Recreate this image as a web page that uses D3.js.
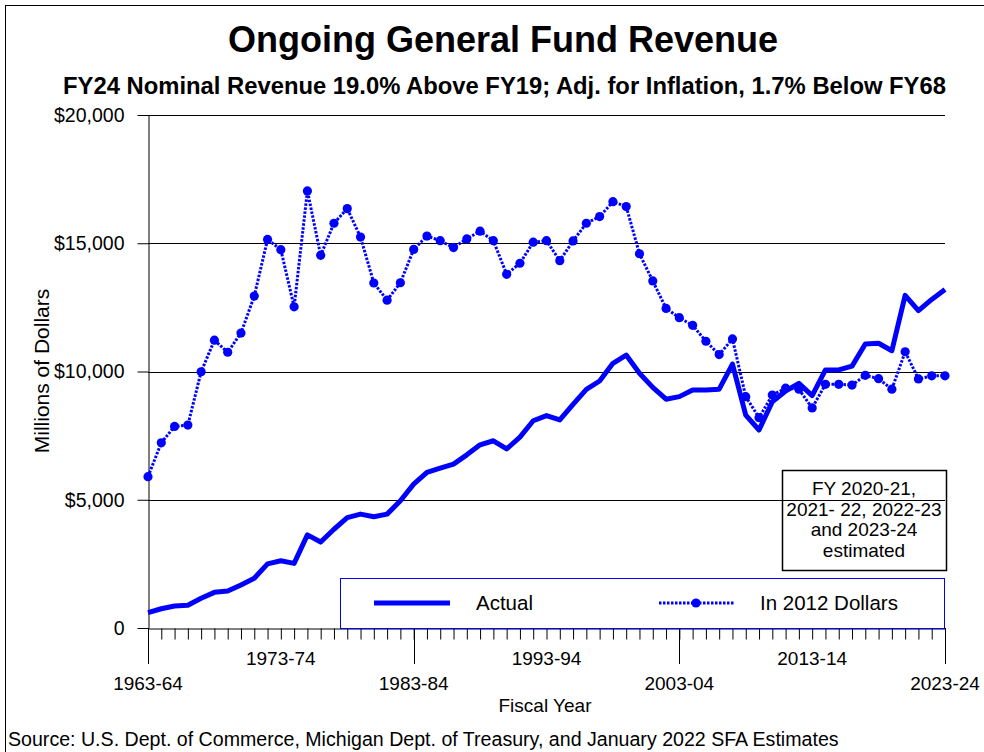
<!DOCTYPE html>
<html>
<head>
<meta charset="utf-8">
<script src="https://cdn.jsdelivr.net/npm/d3@7"></script>
<style>
  body { margin: 0; background: #fff; }
  svg { font-family: "Liberation Sans", Arial, sans-serif; }
</style>
</head>
<body>
<svg id="chart"></svg>
<script>
// fiscal years 1963-64 .. 2023-24
var years = d3.range(1963, 2024).map(function(y) {
  return y + "-" + String((y + 1) % 100).padStart(2, "0");
});

// ongoing GF revenue, millions (nominal)
var actual = [600, 750, 860, 885, 1160, 1390, 1440, 1680, 1940, 2500,
  2620, 2520, 3630, 3350, 3850, 4300, 4440, 4340, 4440, 4960,
  5610, 6070, 6230, 6390, 6750, 7140, 7300, 6980, 7440, 8080,
  8280, 8110, 8720, 9300, 9630, 10320, 10640, 9930, 9380, 8920,
  9020, 9280, 9280, 9310, 10290, 8300, 7720, 8820, 9240, 9540,
  9060, 10060, 10060, 10210, 11070, 11100, 10810, 12970, 12370, 12810,
  13200];

// same in 2012 dollars
var real2012 = [5900, 7220, 7860, 7910, 9990, 11220, 10750, 11500, 12940, 15150,
  14750, 12520, 17040, 14530, 15780, 16350, 15240, 13450, 12780, 13460,
  14760, 15280, 15100, 14830, 15170, 15470, 15100, 13790, 14220, 15040,
  15100, 14320, 15090, 15780, 16040, 16620, 16430, 14590, 13530, 12460,
  12100, 11800, 11180, 10660, 11270, 9020, 8200, 9080, 9350, 9310,
  8580, 9500, 9500, 9470, 9850, 9720, 9310, 10770, 9710, 9830,
  9830];

var yTicks = [0, 5000, 10000, 15000, 20000];
var upperLabels = ["1973-74", "1993-94", "2013-14"];
var lowerLabels = ["1963-64", "1983-84", "2003-04", "2023-24"];
var noteLines = ["FY 2020-21,", "2021- 22, 2022-23", "and 2023-24", "estimated"];

var width = 984, height = 752;
var svg = d3.select("#chart").attr("width", width).attr("height", height);

var x = d3.scalePoint().domain(years).range([148, 945]);
var y = d3.scaleLinear().domain([0, 20000]).range([628, 115]);

// outer frame (right and bottom edges fall outside the picture)
svg.append("rect")
   .attr("x", 5.5).attr("y", 5.5)
   .attr("width", 990).attr("height", 780)
   .attr("fill", "none").attr("stroke", "#000");

// titles
svg.append("text")
   .attr("x", 503).attr("y", 52)
   .attr("text-anchor", "middle")
   .attr("font-size", 36).attr("font-weight", "bold")
   .text("Ongoing General Fund Revenue");
svg.append("text")
   .attr("x", 504.5).attr("y", 94)
   .attr("text-anchor", "middle")
   .attr("font-size", 23.8).attr("font-weight", "bold")
   .text("FY24 Nominal Revenue 19.0% Above FY19; Adj. for Inflation, 1.7% Below FY68");

// gridlines
svg.append("g")
   .selectAll("line")
   .data(yTicks.filter(function(d) { return d > 0; }))
   .enter().append("line")
   .attr("x1", 148).attr("x2", 945)
   .attr("y1", function(d) { return Math.round(y(d)) + 0.5; })
   .attr("y2", function(d) { return Math.round(y(d)) + 0.5; })
   .attr("stroke", "#000").attr("stroke-width", 1);

// y axis
var yAxis = svg.append("g")
   .attr("transform", "translate(148.5,0)")
   .call(d3.axisLeft(y)
     .tickValues(yTicks)
     .tickSize(11)
     .tickSizeOuter(0)
     .tickPadding(13)
     .tickFormat(function(d) { return d === 0 ? "0" : "$" + d3.format(",")(d); }));
yAxis.selectAll("text").attr("font-size", 19.5).attr("fill", "#000")
     .attr("font-family", "Liberation Sans, Arial, sans-serif");
yAxis.selectAll("line, path").attr("stroke", "#000");

// x axis
var xAxis = svg.append("g")
   .attr("transform", "translate(0,628.5)")
   .call(d3.axisBottom(x).tickSize(11).tickSizeOuter(0).tickFormat(""));
xAxis.selectAll("line, path").attr("stroke", "#000");

// long ticks under the lower labels
svg.append("g")
   .selectAll("line")
   .data(lowerLabels)
   .enter().append("line")
   .attr("x1", function(d) { return Math.round(x(d)) + 0.5; })
   .attr("x2", function(d) { return Math.round(x(d)) + 0.5; })
   .attr("y1", 628).attr("y2", 664)
   .attr("stroke", "#000");

svg.append("g")
   .selectAll("text")
   .data(upperLabels)
   .enter().append("text")
   .attr("x", function(d) { return x(d); })
   .attr("y", 665)
   .attr("text-anchor", "middle").attr("font-size", 19)
   .text(function(d) { return d; });
svg.append("g")
   .selectAll("text")
   .data(lowerLabels)
   .enter().append("text")
   .attr("x", function(d) { return x(d); })
   .attr("y", 690)
   .attr("text-anchor", "middle").attr("font-size", 19)
   .text(function(d) { return d; });

svg.append("text")
   .attr("x", 545).attr("y", 712)
   .attr("text-anchor", "middle").attr("font-size", 19)
   .text("Fiscal Year");

svg.append("text")
   .attr("transform", "translate(49,371) rotate(-90)")
   .attr("text-anchor", "middle").attr("font-size", 21)
   .text("Millions of Dollars");

svg.append("text")
   .attr("x", 8).attr("y", 746)
   .attr("font-size", 19.6)
   .text("Source: U.S. Dept. of Commerce, Michigan Dept. of Treasury, and January 2022 SFA Estimates");

// series
var line = d3.line()
   .x(function(d, i) { return x(years[i]); })
   .y(function(d) { return y(d); });

svg.append("path")
   .datum(real2012)
   .attr("d", line)
   .attr("fill", "none")
   .attr("stroke", "#0000ff")
   .attr("stroke-width", 3)
   .attr("stroke-dasharray", "2.5,1.5");
svg.append("g")
   .selectAll("circle")
   .data(real2012)
   .enter().append("circle")
   .attr("cx", function(d, i) { return x(years[i]); })
   .attr("cy", function(d) { return y(d); })
   .attr("r", 4.6)
   .attr("fill", "#0000ff");

svg.append("path")
   .datum(actual)
   .attr("d", line)
   .attr("fill", "none")
   .attr("stroke", "#0000ff")
   .attr("stroke-width", 5)
   .attr("stroke-linejoin", "round");

// note box
svg.append("rect")
   .attr("x", 782.5).attr("y", 470.5)
   .attr("width", 164).attr("height", 100)
   .attr("fill", "none").attr("stroke", "#000").attr("stroke-width", 1.5);
svg.append("g")
   .selectAll("text")
   .data(noteLines)
   .enter().append("text")
   .attr("x", 864)
   .attr("y", function(d, i) { return 495 + i * 20.7; })
   .attr("text-anchor", "middle").attr("font-size", 19)
   .text(function(d) { return d; });

// legend
var legend = svg.append("g");
legend.append("rect")
   .attr("x", 340.5).attr("y", 578.5)
   .attr("width", 604).attr("height", 50)
   .attr("fill", "#fff").attr("stroke", "#0000ff").attr("stroke-width", 1);
legend.append("line")
   .attr("x1", 374).attr("x2", 450).attr("y1", 603).attr("y2", 603)
   .attr("stroke", "#0000ff").attr("stroke-width", 5);
legend.append("text")
   .attr("x", 476).attr("y", 610).attr("font-size", 20.5)
   .text("Actual");
legend.append("line")
   .attr("x1", 659).attr("x2", 734).attr("y1", 603).attr("y2", 603)
   .attr("stroke", "#0000ff").attr("stroke-width", 3)
   .attr("stroke-dasharray", "2.5,1.5");
legend.append("circle")
   .attr("cx", 696).attr("cy", 603).attr("r", 4.6)
   .attr("fill", "#0000ff");
legend.append("text")
   .attr("x", 760).attr("y", 610).attr("font-size", 20.5)
   .text("In 2012 Dollars");
</script>
</body>
</html>
